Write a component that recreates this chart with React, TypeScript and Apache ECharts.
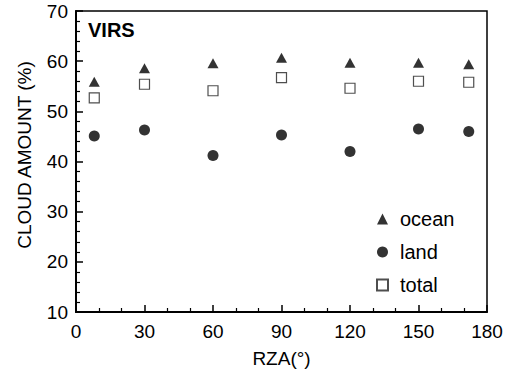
import React, { useEffect, useRef } from "react";
import * as echarts from "echarts";

const rza = [8, 30, 60, 90, 120, 150, 172];
const ocean = [55.9, 58.6, 59.6, 60.7, 59.7, 59.7, 59.4];
const land = [45.1, 46.3, 41.2, 45.3, 42.0, 46.5, 46.0];
const total = [52.7, 55.4, 54.1, 56.7, 54.6, 56.0, 55.8];

const FONT = "'Liberation Sans', Arial, sans-serif";

export default function App() {
  const ref = useRef<HTMLDivElement>(null);
  useEffect(() => {
    if (!ref.current) return;
    const chart = echarts.init(ref.current, undefined, { renderer: "svg" });
    const pair = (ys: number[]) => rza.map((x, i) => [x, ys[i]]);
    chart.setOption({
      animation: false,
      backgroundColor: "#fff",
      textStyle: { fontFamily: FONT },
      grid: {
        left: 76,
        right: 23,
        top: 11,
        bottom: 62,
        show: true,
        borderColor: "#000",
        borderWidth: 1.5,
        backgroundColor: "transparent",
      },
      title: {
        text: "VIRS",
        left: 88,
        top: 20,
        padding: 0,
        textStyle: { fontFamily: FONT, fontWeight: "bold", fontSize: 20, color: "#000" },
      },
      legend: {
        orient: "vertical",
        left: 376,
        top: 209,
        padding: 0,
        itemWidth: 11,
        itemHeight: 11,
        itemGap: 13,
        textStyle: { fontFamily: FONT, fontSize: 20, color: "#000", padding: [0, 0, 0, 7] },
        data: ["ocean", "land", "total"],
      },
      graphic: [
        {
          type: "text",
          x: 24,
          y: 155,
          rotation: Math.PI / 2,
          style: {
            text: "CLOUD AMOUNT (%)",
            font: "19px 'Liberation Sans', Arial, sans-serif",
            fill: "#000",
            textAlign: "center",
            textVerticalAlign: "middle",
          },
        },
      ],
      xAxis: {
        type: "value",
        min: 0,
        max: 180,
        interval: 30,
        name: "RZA(°)",
        nameLocation: "middle",
        nameGap: 37,
        nameTextStyle: { fontFamily: FONT, fontSize: 19, color: "#000" },
        axisLine: { show: true, lineStyle: { color: "#000", width: 2 } },
        axisTick: { show: true, inside: true, length: 7, lineStyle: { color: "#000", width: 1.5 } },
        minorTick: { show: true, splitNumber: 3, length: 4, lineStyle: { color: "#000", width: 1.2 } },
        axisLabel: { fontFamily: FONT, fontSize: 19, color: "#000", margin: 10 },
        splitLine: { show: false },
      },
      yAxis: {
        type: "value",
        min: 10,
        max: 70,
        interval: 10,
        axisLine: { show: true, lineStyle: { color: "#000", width: 2 } },
        axisTick: { show: true, inside: true, length: 7, lineStyle: { color: "#000", width: 1.5 } },
        minorTick: { show: true, splitNumber: 5, length: 4, lineStyle: { color: "#000", width: 1.2 } },
        axisLabel: { fontFamily: FONT, fontSize: 19, color: "#000", margin: 8 },
        splitLine: { show: false },
      },
      series: [
        {
          name: "ocean",
          type: "scatter",
          data: pair(ocean),
          symbol: "triangle",
          symbolSize: [11, 10],
          itemStyle: { color: "#000" },
        },
        {
          name: "land",
          type: "scatter",
          data: pair(land),
          symbol: "circle",
          symbolSize: 11,
          itemStyle: { color: "#000" },
        },
        {
          name: "total",
          type: "scatter",
          data: pair(total),
          symbol: "rect",
          symbolSize: 10,
          itemStyle: { color: "#fff", borderColor: "#222", borderWidth: 1.2 },
        },
      ],
    });
    return () => chart.dispose();
  }, []);
  return <div ref={ref} style={{ width: 510, height: 374, position: "absolute", left: 0, top: 0 }} />;
}
